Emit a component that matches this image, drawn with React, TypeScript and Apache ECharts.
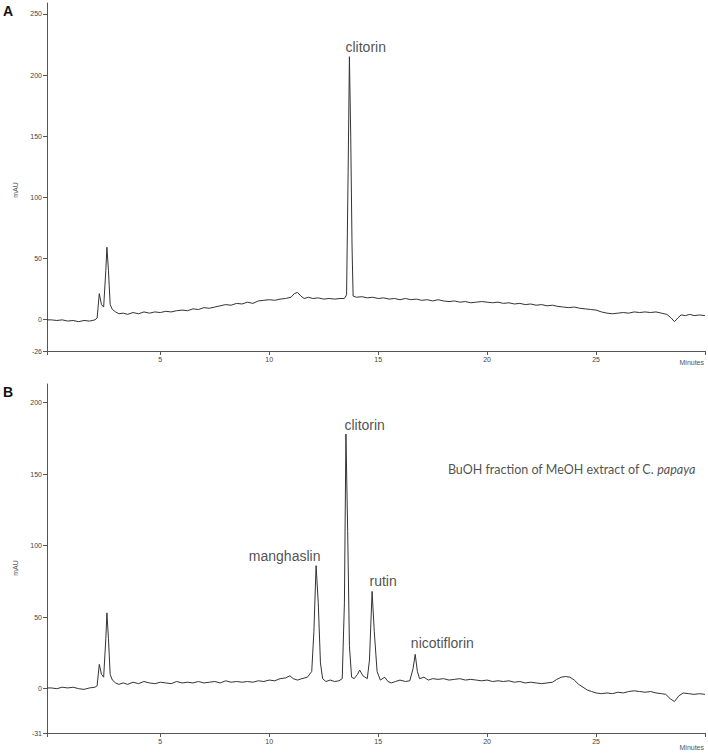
import React, { useEffect, useRef } from "react";
import * as echarts from "echarts";

// Panel A: reference standard chromatogram [minutes, mAU]
const traceA: [number, number][] = [
  [-0.2, -0.5], [0, -0.5], [0.25, -1], [0.5, -0.5], [0.75, -1.5], [1.0, -1], [1.25, -2], [1.5, -1], [1.75, -1.5],
  [2.0, -0.5], [2.1, 1], [2.2, 21], [2.3, 12], [2.4, 10], [2.5, 40], [2.55, 59], [2.62, 40], [2.7, 12],
  [2.8, 8], [2.95, 6], [3.1, 4.5], [3.3, 5], [3.5, 4], [3.75, 5.5], [4.0, 4.5], [4.25, 6], [4.5, 5],
  [4.75, 6], [5.0, 5.5], [5.25, 6.5], [5.5, 6], [5.75, 7], [6.0, 7.5], [6.25, 7], [6.5, 8.5], [6.75, 8],
  [7.0, 9.5], [7.25, 9], [7.5, 10], [7.75, 11], [8.0, 12], [8.25, 11.5], [8.5, 13], [8.75, 12.5], [9.0, 14],
  [9.25, 13], [9.5, 15], [9.75, 15.5], [10.0, 16], [10.25, 15.5], [10.5, 16.5], [10.75, 17], [11.0, 18],
  [11.15, 21], [11.3, 22], [11.45, 19], [11.6, 17], [11.8, 18], [12.0, 17], [12.25, 17.5], [12.5, 16.5],
  [12.75, 17], [13.0, 16.5], [13.25, 17], [13.45, 17], [13.55, 20], [13.62, 120], [13.68, 215], [13.74, 150],
  [13.8, 60], [13.85, 19], [14.0, 18], [14.25, 18.5], [14.5, 17.5], [14.75, 18], [15.0, 17], [15.25, 17.5],
  [15.5, 16.5], [15.75, 17], [16.0, 16], [16.25, 17], [16.5, 16], [16.75, 16.5], [17.0, 15.5], [17.25, 16],
  [17.5, 15], [17.75, 16], [18.0, 15], [18.25, 14.5], [18.5, 15], [18.75, 14], [19.0, 14.5], [19.25, 13.5],
  [19.5, 14], [19.75, 14.5], [20.0, 14], [20.25, 13.5], [20.5, 14], [20.75, 13], [21.0, 13.5], [21.25, 12.5],
  [21.5, 13], [21.75, 12], [22.0, 12.5], [22.25, 11.5], [22.5, 12], [22.75, 11], [23.0, 11.5], [23.25, 10.5],
  [23.5, 10], [23.75, 9.5], [24.0, 10], [24.25, 9], [24.5, 8.5], [24.75, 8], [25.0, 7.5], [25.25, 6],
  [25.5, 5], [25.75, 4.5], [26.0, 5], [26.25, 5.5], [26.5, 5], [26.75, 6], [27.0, 5.5], [27.25, 6],
  [27.5, 5.5], [27.75, 6], [28.0, 5], [28.25, 4], [28.45, 1], [28.6, -2], [28.75, 1], [28.9, 3.5],
  [29.1, 3], [29.3, 4], [29.5, 3], [29.75, 3.5], [30.0, 3],
];

// Panel B: BuOH fraction chromatogram [minutes, mAU]
const traceB: [number, number][] = [
  [-0.2, 0.5], [0, 0.5], [0.25, 0], [0.5, 1], [0.75, 0.5], [1.0, 1], [1.25, 0], [1.5, -0.5], [1.75, 0.5],
  [2.0, 1], [2.1, 2], [2.2, 17], [2.3, 10], [2.4, 8], [2.5, 35], [2.55, 53], [2.62, 35], [2.7, 10],
  [2.8, 6], [2.95, 4], [3.1, 3], [3.3, 4], [3.5, 3], [3.75, 4.5], [4.0, 3.5], [4.25, 5], [4.5, 4],
  [4.75, 3.5], [5.0, 4.5], [5.25, 4], [5.5, 3.5], [5.75, 5], [6.0, 4], [6.25, 4.5], [6.5, 4], [6.75, 5],
  [7.0, 4], [7.25, 4.5], [7.5, 5], [7.75, 4], [8.0, 5.5], [8.25, 4.5], [8.5, 5], [8.75, 4.5], [9.0, 5],
  [9.25, 4.5], [9.5, 5.5], [9.75, 5], [10.0, 6], [10.25, 5.5], [10.5, 7], [10.75, 7.5], [10.95, 9],
  [11.1, 7], [11.3, 6], [11.5, 7], [11.75, 8], [11.95, 12], [12.05, 40], [12.15, 86], [12.25, 60],
  [12.35, 18], [12.45, 7], [12.6, 5], [12.8, 6], [13.0, 5], [13.2, 5.5], [13.35, 7], [13.45, 60],
  [13.52, 178], [13.6, 110], [13.68, 30], [13.78, 8], [13.9, 7], [14.05, 10], [14.15, 13], [14.3, 9],
  [14.5, 7], [14.6, 20], [14.72, 68], [14.82, 40], [14.95, 12], [15.1, 6], [15.3, 8], [15.45, 5],
  [15.6, 4], [15.8, 5], [16.0, 6], [16.25, 5], [16.45, 5.5], [16.6, 14], [16.7, 24], [16.8, 12],
  [16.9, 7], [17.1, 8], [17.3, 6], [17.5, 7], [17.75, 6.5], [18.0, 7], [18.25, 6], [18.5, 6.5],
  [18.75, 7], [19.0, 6], [19.25, 6.5], [19.5, 6], [19.75, 5.5], [20.0, 6], [20.25, 5], [20.5, 5.5],
  [20.75, 5], [21.0, 5.5], [21.25, 4.5], [21.5, 5], [21.75, 4], [22.0, 4.5], [22.25, 4], [22.5, 3.5],
  [22.75, 4], [23.0, 4.5], [23.2, 6.5], [23.4, 8], [23.6, 8.5], [23.8, 8], [24.0, 6], [24.2, 3],
  [24.4, 1], [24.6, -1], [24.8, -2], [25.0, -3], [25.25, -3.5], [25.5, -3], [25.75, -3.5], [26.0, -2.5],
  [26.25, -3], [26.5, -2], [26.75, -1.5], [27.0, -2], [27.25, -2.5], [27.5, -2], [27.75, -3], [28.0, -3.5],
  [28.2, -4], [28.4, -7], [28.6, -9], [28.8, -5], [29.0, -3], [29.25, -3.5], [29.5, -4], [29.75, -3.5],
  [30.0, -4],
];

// Peak annotations: [label, minutes, mAU, alignment]
const labelsA: [string, number, number, string][] = [["clitorin", 13.5, 223, "left"]];
const labelsB: [string, number, number, string][] = [
  ["manghaslin", 12.35, 92.5, "right"],
  ["clitorin", 13.45, 184, "left"],
  ["rutin", 14.6, 75, "left"],
  ["nicotiflorin", 16.5, 32, "left"],
];
const noteB = { text: "BuOH fraction of MeOH extract of C. ", italic: "papaya", t: 18.2, v: 153 };

const xTicks = [-0.2, 5, 10, 15, 20, 25, 30];
const xTickLabels = [5, 10, 15, 20, 25];
const yTicksA = [-26, 0, 50, 100, 150, 200, 250];
const yTicksB = [-31, 0, 50, 100, 150, 200];
const xRange = [-0.2, 30];
const yRangeA = [-26, 259];
const yRangeB = [-31, 213];

const axisColor = "#555";
const traceColor = "#333";

export default function App() {
  const ref = useRef<HTMLDivElement>(null);
  useEffect(() => {
    if (!ref.current) return;
    const chart = echarts.init(ref.current, null, { renderer: "svg" });
    const mkX = (gridIndex: number) => ({
      type: "value",
      gridIndex,
      min: xRange[0],
      max: xRange[1],
      splitLine: { show: false },
      axisLine: { show: true, onZero: false, lineStyle: { color: axisColor, width: 1 } },
      axisTick: { show: true, length: 4, customValues: xTicks, lineStyle: { color: axisColor } },
      axisLabel: { customValues: xTickLabels, fontSize: 7, color: "#444", margin: 5, fontFamily: "Liberation Sans" },
    });
    const mkY = (gridIndex: number, range: number[], ticks: number[]) => ({
      type: "value",
      gridIndex,
      min: range[0],
      max: range[1],
      splitLine: { show: false },
      axisLine: { show: true, onZero: false, lineStyle: { color: axisColor, width: 1 } },
      axisTick: { show: true, length: 4, customValues: ticks, lineStyle: { color: axisColor } },
      axisLabel: { customValues: ticks, fontSize: 7, color: "#444", margin: 5, fontFamily: "Liberation Sans" },
    });
    const labelSeries = (labels: [string, number, number, string][], xi: number) => ({
      type: "scatter",
      xAxisIndex: xi,
      yAxisIndex: xi,
      symbolSize: 0,
      silent: true,
      data: labels.map((l) => ({
        name: l[0],
        value: [l[1], l[2]],
        label: { align: l[3] },
      })),
      label: {
        show: true,
        position: [0, 0],
        verticalAlign: "middle",
        formatter: "{b}",
        fontSize: 14,
        color: "#222",
        fontFamily: "Liberation Sans",
      },
    });
    chart.setOption({
      animation: false,
      backgroundColor: "#fff",
      grid: [
        { left: 47, right: 3, top: 3, bottom: 402 },
        { left: 47, right: 3, top: 384, bottom: 20 },
      ],
      xAxis: [mkX(0), mkX(1)],
      yAxis: [mkY(0, yRangeA, yTicksA), mkY(1, yRangeB, yTicksB)],
      series: [
        {
          type: "line",
          xAxisIndex: 0,
          yAxisIndex: 0,
          data: traceA,
          showSymbol: false,
          lineStyle: { color: traceColor, width: 1 },
          silent: true,
        },
        {
          type: "line",
          xAxisIndex: 1,
          yAxisIndex: 1,
          data: traceB,
          showSymbol: false,
          lineStyle: { color: traceColor, width: 1 },
          silent: true,
        },
        labelSeries(labelsA, 0),
        labelSeries(labelsB, 1),
        {
          type: "scatter",
          xAxisIndex: 1,
          yAxisIndex: 1,
          symbolSize: 0,
          silent: true,
          data: [{ name: noteB.text, value: [noteB.t, noteB.v] }],
          label: {
            show: true,
            position: [0, 0],
            align: "left",
            verticalAlign: "middle",
            formatter: noteB.text + "{i|" + noteB.italic + "}",
            fontSize: 12.5,
            color: "#222",
            fontFamily: "Lato",
            rich: { i: { fontStyle: "italic", fontSize: 12.5, color: "#222", fontFamily: "Lato" } },
          },
        },
      ],
      graphic: [
        { type: "text", left: 3, top: 4, style: { text: "A", fontSize: 14, fontWeight: "bold", fill: "#111", fontFamily: "Liberation Sans" } },
        { type: "text", left: 3, top: 385, style: { text: "B", fontSize: 14, fontWeight: "bold", fill: "#111", fontFamily: "Liberation Sans" } },
        { type: "text", x: 15, y: 190, rotation: Math.PI / 2, style: { text: "mAU", fontSize: 7, fill: "#555", align: "center", verticalAlign: "middle", fontFamily: "Liberation Sans" } },
        { type: "text", x: 15, y: 568, rotation: Math.PI / 2, style: { text: "mAU", fontSize: 7, fill: "#555", align: "center", verticalAlign: "middle", fontFamily: "Liberation Sans" } },
        { type: "text", right: 4, top: 359, style: { text: "Minutes", fontSize: 7, fill: "#555", fontFamily: "Liberation Sans" } },
        { type: "text", right: 4, top: 744, style: { text: "Minutes", fontSize: 7, fill: "#555", fontFamily: "Liberation Sans" } },
      ],
    });
    return () => chart.dispose();
  }, []);
  return <div ref={ref} style={{ position: "fixed", left: 0, top: 0, width: 708, height: 753 }} />;
}
